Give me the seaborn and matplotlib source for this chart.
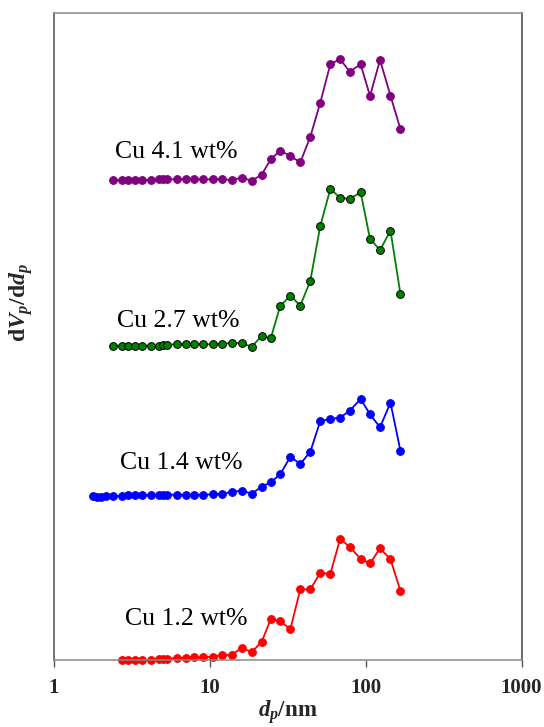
"""
plot.py
Pore size distribution (dV/dd) of Cu catalysts, curves offset vertically.
Output:
  - out.png
"""

import numpy as np
import pandas as pd
import matplotlib
matplotlib.use('Agg')
import matplotlib.pyplot as plt
import seaborn as sns

OUT_PATH = 'out.png'

# pore diameter grid (nm), shared by all samples
d_grid = [2.42, 2.74, 3.02, 3.33, 3.71, 4.20, 4.75, 5.06, 5.36, 6.16, 7.04, 7.99,
          9.13, 10.49, 12.08, 13.88, 16.08, 18.65, 21.6, 24.7, 28.4, 33.0, 38.2,
          44.3, 51.3, 59.5, 68.7, 79.2, 93.1, 106.9, 123.9, 144.6, 167.6]
# extra small pores measured only for Cu 1.4
d_extra_14 = [1.78, 1.89, 2.01, 2.17]

# dV/dd (arbitrary units) per sample
dv_41 = [0, 0, 0, 0, 0, 0, 0.7, 0.7, 0.7, 0.7, 0.7, 0.7, 0.7, 0.7, 0.7, 0, 2.3, -0.7,
         5.3, 20.7, 29.3, 24, 17.7, 43.3, 77.3, 115.7, 121, 108.3, 115.7, 84, 120, 84.3, 50.7]
dv_27 = [0, 0, 0, 0, 0, 0, 0, 1, 1, 1.4, 1.4, 1.4, 1.4, 1.4, 1.7, 3, 2.4, -1,
         9.7, 7.4, 39.7, 50, 40, 65, 119.7, 156.7, 148, 146.7, 153.4, 106.7, 95.7, 115, 51.4]
dv_14 = [0, -0.7, -1.3, 0,
         0.3, 0, 0.7, 1, 1, 1, 0.7, 1.3, 1.3, 1.3, 1.3, 1.3, 1.3, 1.7, 1.7, 4.3, 5.3, 2.3,
         9.3, 13.7, 21.7, 39.3, 32, 44.3, 75, 77, 78.3, 85.3, 97, 81.7, 68.7, 93.3, 45]
dv_12 = [0, 0, 0.3, 0, 0, 0.7, 1.3, 1, 2, 2.3, 2.7, 2.7, 3.3, 4.7, 5.3, 12, 8,
         18, 41, 38.7, 31, 70.7, 70.7, 87.3, 86, 121, 113.3, 101, 96.7, 111.7, 100.7, 69]

labels = ['Cu 4.1 wt%', 'Cu 2.7 wt%', 'Cu 1.4 wt%', 'Cu 1.2 wt%']
offsets = [480, 314.3, 164, 0]

sns.set_style('white')
plt.rcParams['font.family'] = ['Liberation Serif', 'DejaVu Serif']
plt.rcParams['mathtext.fontset'] = 'custom'
plt.rcParams['mathtext.rm'] = 'Liberation Serif:bold'
plt.rcParams['mathtext.bf'] = 'Liberation Serif:bold'
plt.rcParams['mathtext.it'] = 'Liberation Serif:bold:italic'

fig = plt.figure(figsize=(5.44, 7.27), dpi=100)
ax = fig.add_axes([53.5 / 544, 67 / 727, 468 / 544, 647 / 727])

series = [
    (d_grid, dv_41, '#800080', '#800080'),
    (d_grid, dv_27, '#008000', '#000000'),
    (d_extra_14 + d_grid, dv_14, '#0000ff', '#0000ff'),
    (d_grid[1:], dv_12, '#ff0000', '#ff0000'),
]

for (xs, ys, col, edge), off in zip(series, offsets):
    df = pd.DataFrame({'d': xs, 'dv': np.array(ys) + off})
    sns.lineplot(data=df, x='d', y='dv', ax=ax, color=col, marker='o',
                 markersize=5.6, markeredgecolor=edge, markeredgewidth=0.7,
                 linewidth=1.3, estimator=None, sort=False, clip_on=False)

# sample labels
label_pos = [(2.48, 502), (2.55, 333), (2.67, 191), (2.87, 35)]
for (lx, ly), txt in zip(label_pos, labels):
    ax.text(lx, ly, txt, fontsize=18.5, ha='left', va='baseline', color='black')

ax.set_xscale('log')
ax.set_xlim(1, 1000)
ax.set_ylim(0, 647)
ax.set_xticks([1, 10, 100, 1000])
ax.set_xticklabels(['1', '10', '100', '1000'], fontweight='bold', fontsize=15)
ax.minorticks_off()
ax.set_yticks([])
ax.tick_params(axis='x', direction='out', length=5, width=1, color='#555555',
               pad=8, bottom=True)

for side, col in [('left', '#505050'), ('right', '#404040'),
                  ('top', '#888888'), ('bottom', '#888888')]:
    ax.spines[side].set_visible(True)
    ax.spines[side].set_color(col)
    ax.spines[side].set_linewidth(1.1)

ax.set_xlabel(r'$d_p$/nm', fontsize=16.5, fontweight='bold', labelpad=0)
ax.set_ylabel(r'd$V_p$/d$d_p$', fontsize=17, fontweight='bold')
ax.yaxis.set_label_coords(-0.04, 0.552)

fig.savefig(OUT_PATH, dpi=100)
